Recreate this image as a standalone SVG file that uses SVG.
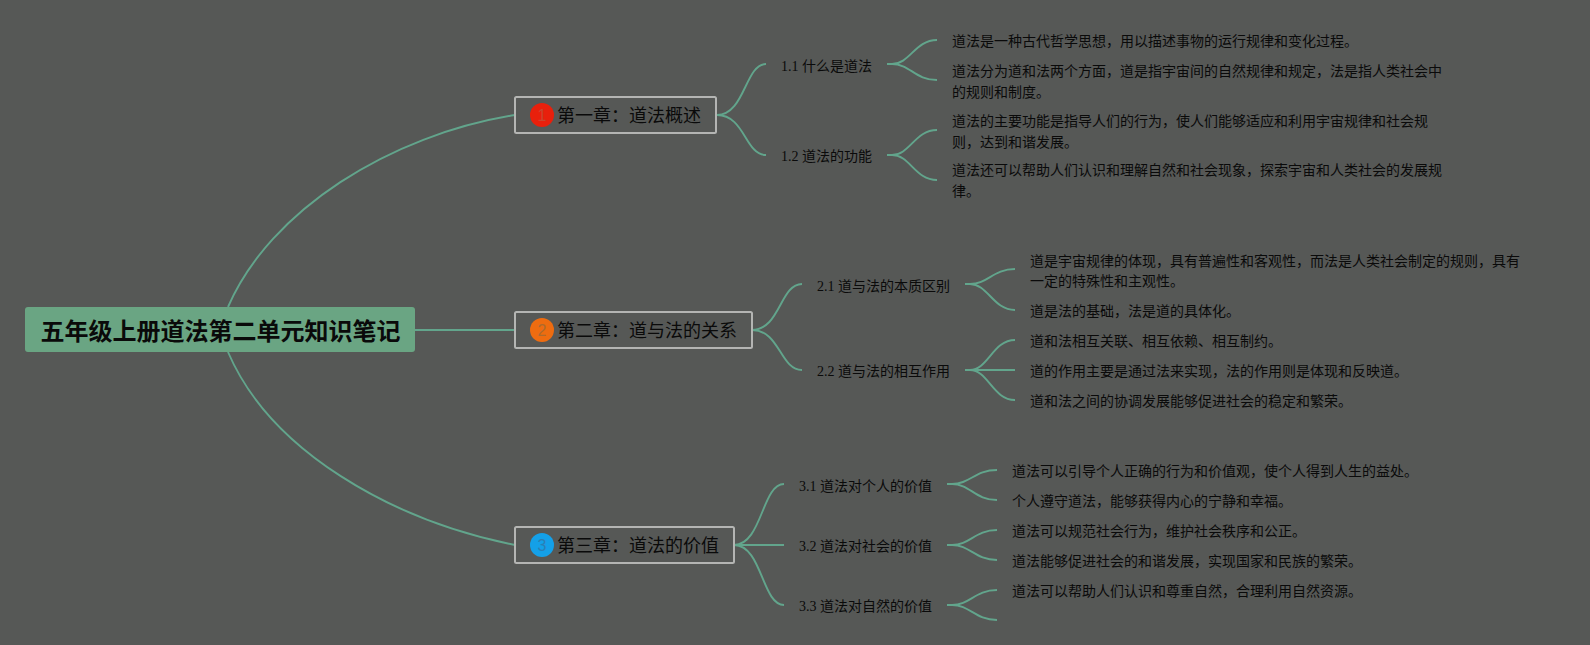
<svg xmlns="http://www.w3.org/2000/svg" width="1590" height="645" viewBox="0 0 1590 645">
<style>
text{font-family:"Liberation Serif","Noto Sans CJK SC",serif;fill:#0a0a0a;}
.root{font-size:24px;font-weight:bold;font-family:"Liberation Sans","Noto Sans CJK SC",sans-serif;}
.ch{font-size:18px;}
.sub,.leaf{font-size:14px;}
.box{fill:none;stroke:#b4b5b3;stroke-width:2;}
.num{font-family:"Liberation Sans",sans-serif;font-size:16px;text-anchor:middle;}
#connectors path{fill:none;stroke:#62a58c;stroke-width:1.9;}
</style>
<rect width="1590" height="645" fill="#565856"/>
<g id="connectors">
<path d="M228 307C270 210 390 135 515 115"/>
<path d="M415 330H515"/>
<path d="M228 352C270 450 390 520 515 545"/>
<path d="M717 115C745 115 745 64 766 64"/>
<path d="M717 115C745 115 745 155 766 155"/>
<path d="M887 64H892C910 64 915 40 937 40"/>
<path d="M887 64H892C910 64 915 80 937 80"/>
<path d="M887 155H892C910 155 915 130 937 130"/>
<path d="M887 155H892C910 155 915 180 937 180"/>
<path d="M752 330C780 330 780 284 802 284"/>
<path d="M752 330C780 330 780 370 802 370"/>
<path d="M965 284H970C988 284 993 269 1015 269"/>
<path d="M965 284H970C988 284 993 310 1015 310"/>
<path d="M965 370H970C988 370 993 340 1015 340"/>
<path d="M965 370H1015"/>
<path d="M965 370H970C988 370 993 400 1015 400"/>
<path d="M734 545C762 545 762 484 784 484"/>
<path d="M734 545H784"/>
<path d="M734 545C762 545 762 605 784 605"/>
<path d="M947 484H952C970 484 975 470 997 470"/>
<path d="M947 484H952C970 484 975 500 997 500"/>
<path d="M947 545H952C970 545 975 530 997 530"/>
<path d="M947 545H952C970 545 975 560 997 560"/>
<path d="M947 605H952C970 605 975 590 997 590"/>
<path d="M947 605H952C970 605 975 620 997 620"/>
</g>
<g id="root"><rect x="25" y="307" width="390" height="45" rx="3" fill="#6aa583"/><text class="root" x="40.5" y="340">五年级上册道法第二单元知识笔记</text></g>
<g id="ch1"><rect class="box" x="515" y="97" width="201" height="36" rx="1.5"/><circle cx="542" cy="115" r="12" fill="#e8200c"/><text class="num" x="542" y="120.5" style="fill:#c9452f">1</text><text class="ch" x="557" y="122">第一章：道法概述</text></g>
<g id="ch2"><rect class="box" x="515" y="312" width="237" height="36" rx="1.5"/><circle cx="542" cy="330" r="12" fill="#ee6c10"/><text class="num" x="542" y="335.5" style="fill:#ae6a2c">2</text><text class="ch" x="557" y="337">第二章：道与法的关系</text></g>
<g id="ch3"><rect class="box" x="515" y="527" width="219" height="36" rx="1.5"/><circle cx="542" cy="545" r="12" fill="#14a0e8"/><text class="num" x="542" y="550.5" style="fill:#2a7fb5">3</text><text class="ch" x="557" y="552">第三章：道法的价值</text></g>
<g id="s11"><text class="sub" x="781" y="71">1.1 什么是道法</text></g>
<g id="s12"><text class="sub" x="781" y="161">1.2 道法的功能</text></g>
<g id="s21"><text class="sub" x="817" y="291">2.1 道与法的本质区别</text></g>
<g id="s22"><text class="sub" x="817" y="376">2.2 道与法的相互作用</text></g>
<g id="s31"><text class="sub" x="799" y="491">3.1 道法对个人的价值</text></g>
<g id="s32"><text class="sub" x="799" y="551">3.2 道法对社会的价值</text></g>
<g id="s33"><text class="sub" x="799" y="611">3.3 道法对自然的价值</text></g>
<g id="l111"><text class="leaf" x="952" y="46">道法是一种古代哲学思想，用以描述事物的运行规律和变化过程。</text></g>
<g id="l112"><text class="leaf" x="952" y="76">道法分为道和法两个方面，道是指宇宙间的自然规律和规定，法是指人类社会中</text><text class="leaf" x="952" y="97">的规则和制度。</text></g>
<g id="l121"><text class="leaf" x="952" y="126">道法的主要功能是指导人们的行为，使人们能够适应和利用宇宙规律和社会规</text><text class="leaf" x="952" y="147">则，达到和谐发展。</text></g>
<g id="l122"><text class="leaf" x="952" y="175">道法还可以帮助人们认识和理解自然和社会现象，探索宇宙和人类社会的发展规</text><text class="leaf" x="952" y="196">律。</text></g>
<g id="l211"><text class="leaf" x="1030" y="266">道是宇宙规律的体现，具有普遍性和客观性，而法是人类社会制定的规则，具有</text><text class="leaf" x="1030" y="286">一定的特殊性和主观性。</text></g>
<g id="l212"><text class="leaf" x="1030" y="316">道是法的基础，法是道的具体化。</text></g>
<g id="l221"><text class="leaf" x="1030" y="346">道和法相互关联、相互依赖、相互制约。</text></g>
<g id="l222"><text class="leaf" x="1030" y="376">道的作用主要是通过法来实现，法的作用则是体现和反映道。</text></g>
<g id="l223"><text class="leaf" x="1030" y="406">道和法之间的协调发展能够促进社会的稳定和繁荣。</text></g>
<g id="l311"><text class="leaf" x="1012" y="476">道法可以引导个人正确的行为和价值观，使个人得到人生的益处。</text></g>
<g id="l312"><text class="leaf" x="1012" y="506">个人遵守道法，能够获得内心的宁静和幸福。</text></g>
<g id="l321"><text class="leaf" x="1012" y="536">道法可以规范社会行为，维护社会秩序和公正。</text></g>
<g id="l322"><text class="leaf" x="1012" y="566">道法能够促进社会的和谐发展，实现国家和民族的繁荣。</text></g>
<g id="l331"><text class="leaf" x="1012" y="596">道法可以帮助人们认识和尊重自然，合理利用自然资源。</text></g>
</svg>
